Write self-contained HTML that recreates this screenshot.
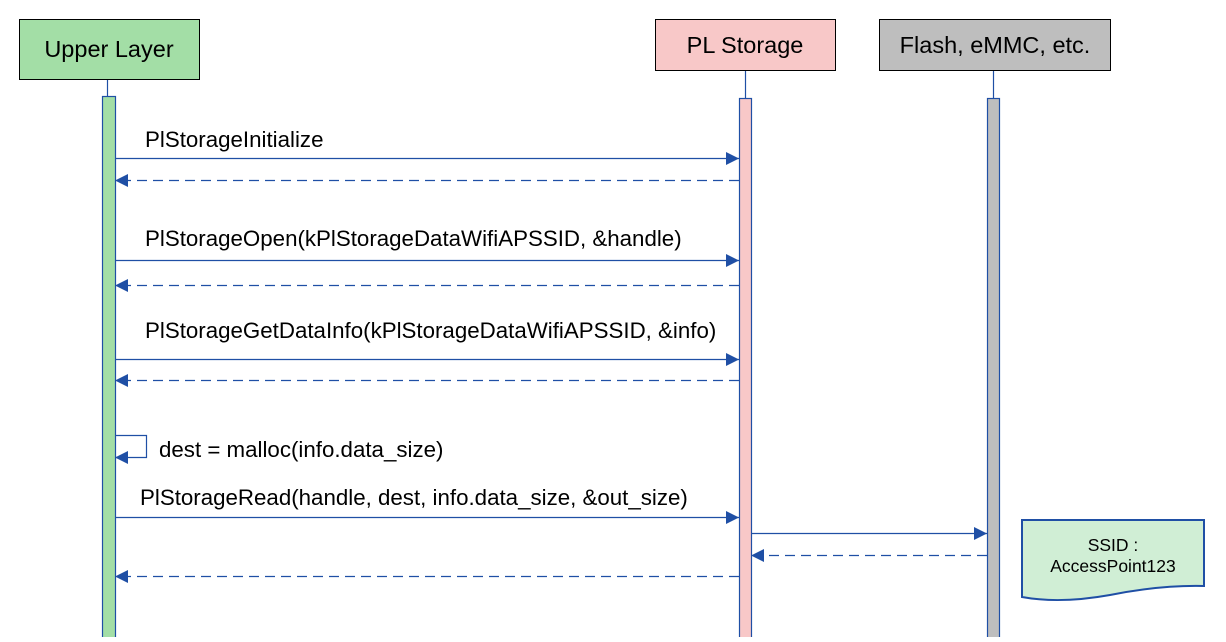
<!DOCTYPE html>
<html><head><style>body{margin:0;background:#fff}</style></head><body>
<svg width="1226" height="637" xmlns="http://www.w3.org/2000/svg" font-family="Liberation Sans, Arial, sans-serif">
<defs>
<marker id="a" markerWidth="13" markerHeight="13" refX="13" refY="6.5" orient="auto" markerUnits="userSpaceOnUse"><path d="M0,0 L13,6.5 L0,13 Z" fill="#1f4fa5"/></marker>
</defs>
<rect x="19.5" y="19.5" width="180" height="60" fill="#a3dea6" stroke="#000"/>
<text x="109" y="57" font-size="23.5" text-anchor="middle">Upper Layer</text>
<rect x="655.5" y="19.5" width="180" height="51" fill="#f8c8c8" stroke="#000"/>
<text x="745" y="53" font-size="23.5" text-anchor="middle">PL Storage</text>
<rect x="879.5" y="19.5" width="231" height="51" fill="#bebebe" stroke="#000"/>
<text x="995" y="53" font-size="23.5" text-anchor="middle">Flash, eMMC, etc.</text>
<g stroke="#1f4fa5" stroke-width="1.2">
<line x1="107.5" y1="80" x2="107.5" y2="97"/>
<line x1="745.5" y1="71" x2="745.5" y2="99"/>
<line x1="993.5" y1="71" x2="993.5" y2="99"/>
<rect x="102.5" y="96.5" width="13" height="545" fill="#a3dea6"/>
<rect x="739.5" y="98.5" width="12" height="545" fill="#f8c8c8"/>
<rect x="987.5" y="98.5" width="12" height="545" fill="#bebebe"/>
<line x1="115" y1="158.5" x2="739" y2="158.5" marker-end="url(#a)"/>
<line x1="739" y1="180.5" x2="115" y2="180.5" stroke-dasharray="10,6" marker-end="url(#a)"/>
<line x1="115" y1="260.5" x2="739" y2="260.5" marker-end="url(#a)"/>
<line x1="739" y1="285.5" x2="115" y2="285.5" stroke-dasharray="10,6" marker-end="url(#a)"/>
<line x1="115" y1="359.5" x2="739" y2="359.5" marker-end="url(#a)"/>
<line x1="739" y1="380.5" x2="115" y2="380.5" stroke-dasharray="10,6" marker-end="url(#a)"/>
<polyline points="115,435.5 146.5,435.5 146.5,457.5 115,457.5" fill="none" marker-end="url(#a)"/>
<line x1="115" y1="517.5" x2="739" y2="517.5" marker-end="url(#a)"/>
<line x1="751" y1="533.5" x2="987" y2="533.5" marker-end="url(#a)"/>
<line x1="987" y1="555.5" x2="751" y2="555.5" stroke-dasharray="10,6" marker-end="url(#a)"/>
<line x1="739" y1="576.5" x2="115" y2="576.5" stroke-dasharray="10,6" marker-end="url(#a)"/>
</g>
<path d="M1022,520 L1204,520 L1204,586 Q1160,585 1110,595 Q1060,604 1022,597 Z" fill="#d0eed5" stroke="#1f4fa5" stroke-width="2"/>
<text x="1113" y="551" font-size="17.5" text-anchor="middle">SSID :</text>
<text x="1113" y="572" font-size="17.5" text-anchor="middle">AccessPoint123</text>
<g font-size="22.3">
<text x="145" y="147">PlStorageInitialize</text>
<text x="145" y="246">PlStorageOpen(kPlStorageDataWifiAPSSID, &amp;handle)</text>
<text x="145" y="338">PlStorageGetDataInfo(kPlStorageDataWifiAPSSID, &amp;info)</text>
<text x="159" y="457">dest = malloc(info.data_size)</text>
<text x="140" y="505">PlStorageRead(handle, dest, info.data_size, &amp;out_size)</text>
</g>
</svg>
</body></html>
